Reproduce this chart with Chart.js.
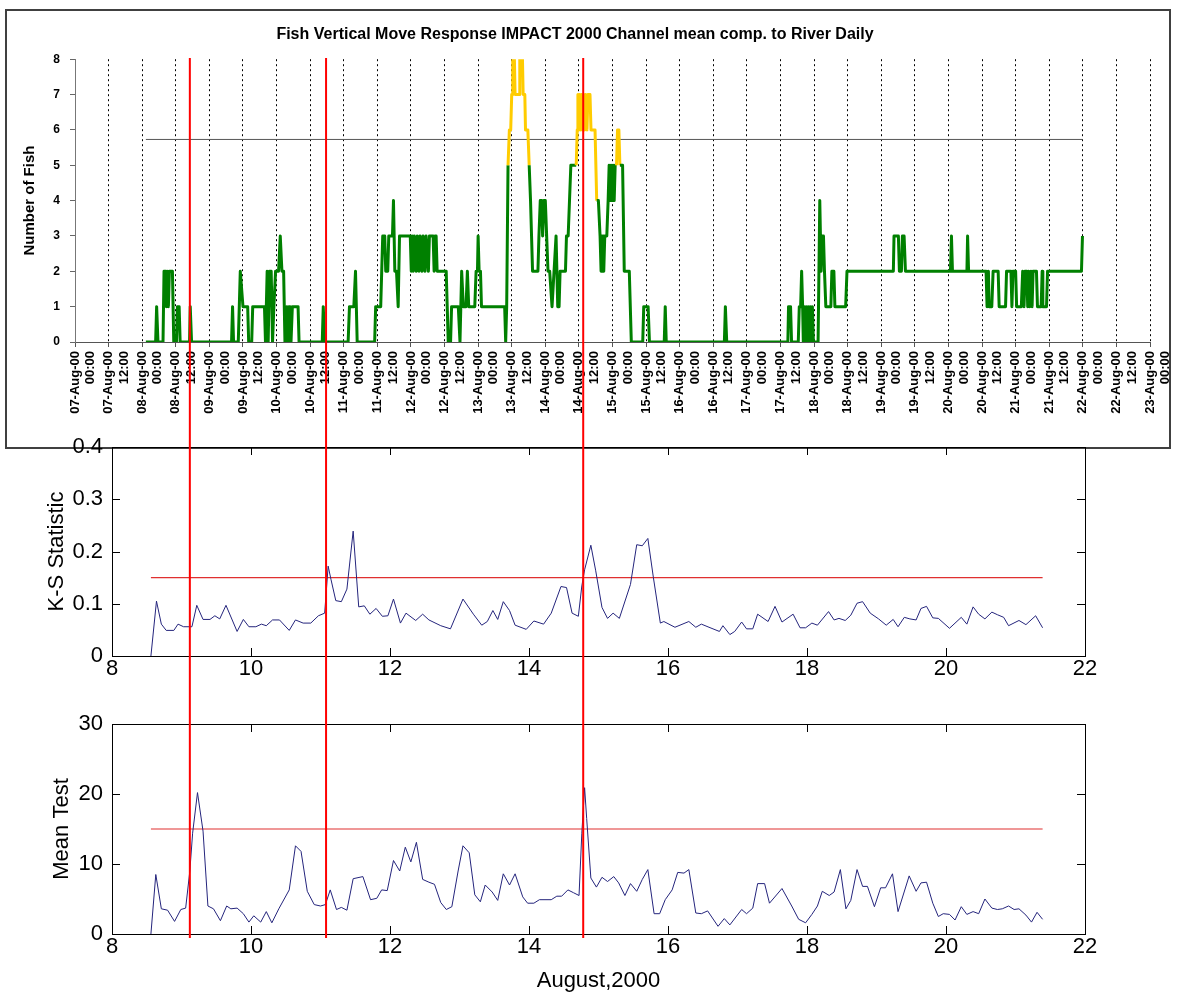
<!DOCTYPE html>
<html>
<head>
<meta charset="utf-8">
<script src="https://cdn.jsdelivr.net/npm/chart.js@4.4.1/dist/chart.umd.min.js"></script>
<style>
html,body{margin:0;padding:0;background:#fff;}
#page{position:relative;width:1178px;height:994px;overflow:hidden;background:#fff;}
#frame{position:absolute;left:5px;top:9px;width:1162px;height:436px;border:2px solid #404040;}
canvas{position:absolute;}
#c1{left:0;top:0;}
#c2{left:0;top:420px;}
#c3{left:0;top:690px;}
#c4{left:0;top:0;pointer-events:none;}
</style>
</head>
<body>
<div id="page">
  <div id="frame"></div>
  <canvas id="c1" width="1210" height="446"></canvas>
  <canvas id="c2" width="1178" height="270"></canvas>
  <canvas id="c3" width="1178" height="304"></canvas>
  <canvas id="c4" width="1178" height="994"></canvas>
</div>
<script>
// ---------------- DATA ----------------
const topTitle = 'Fish Vertical Move Response IMPACT 2000 Channel mean comp. to River Daily';
const topYTitle = 'Number of Fish';
const topTickLabels = [
 '07-Aug-00 00:00','07-Aug-00 12:00','08-Aug-00 00:00','08-Aug-00 12:00','09-Aug-00 00:00','09-Aug-00 12:00',
 '10-Aug-00 00:00','10-Aug-00 12:00','11-Aug-00 00:00','11-Aug-00 12:00','12-Aug-00 00:00','12-Aug-00 12:00',
 '13-Aug-00 00:00','13-Aug-00 12:00','14-Aug-00 00:00','14-Aug-00 12:00','15-Aug-00 00:00','15-Aug-00 12:00',
 '16-Aug-00 00:00','16-Aug-00 12:00','17-Aug-00 00:00','17-Aug-00 12:00','18-Aug-00 00:00','18-Aug-00 12:00',
 '19-Aug-00 00:00','19-Aug-00 12:00','20-Aug-00 00:00','20-Aug-00 12:00','21-Aug-00 00:00','21-Aug-00 12:00',
 '22-Aug-00 00:00','22-Aug-00 12:00','23-Aug-00 00:00'
];
const fishThreshold = 5.73;
const fishThresholdRange = [2.11, 29.99];
// [tick index, number of fish]
const fishSeries = [
 [2.11,0],[2.40,0],[2.43,1],[2.47,0],[2.62,0],[2.65,2],[2.70,2],[2.72,1],[2.75,2],[2.78,1],[2.81,2],[2.90,2],[2.94,0],[3.02,0],[3.05,1],[3.10,1],[3.13,0],[3.41,0],[3.43,1],[3.47,0],
 [4.66,0],[4.69,1],[4.72,0],[4.86,0],[4.92,2],[5.00,1],[5.14,1],[5.17,0],[5.26,0],[5.29,1],[5.64,1],[5.67,0],[5.72,2],[5.75,0],[5.79,2],[5.84,2],[5.88,0],[5.92,1],[5.97,2],[6.06,2],[6.11,3],[6.16,2],[6.21,2],[6.25,0],[6.31,1],[6.34,0],[6.37,1],[6.40,1],[6.43,0],[6.47,1],[6.64,1],[6.67,0],
 [7.36,0],[7.39,1],[7.43,0],[8.13,0],[8.17,1],[8.30,1],[8.35,2],[8.40,0],[8.92,0],[8.95,1],[9.10,1],[9.16,3],[9.22,3],[9.25,2],[9.31,2],[9.34,3],[9.45,3],[9.48,4],[9.52,2],[9.57,2],[9.62,1],[9.66,3],
 [9.98,3],[10.01,2],[10.04,3],[10.07,2],[10.10,3],[10.16,2],[10.19,3],[10.24,2],[10.27,3],[10.33,2],[10.36,3],[10.42,2],[10.45,3],[10.52,2],[10.55,3],[10.66,3],[10.69,2],[10.72,3],[10.75,3],[10.78,2],
 [11.05,2],[11.08,1],[11.11,0],[11.18,0],[11.21,1],[11.41,1],[11.46,0],[11.51,2],[11.56,1],[11.64,1],[11.68,2],[11.72,1],[11.90,1],[11.94,2],[11.98,2],[12.00,3],[12.03,2],[12.07,2],[12.10,1],[12.79,1],[12.82,0],[12.85,1],[12.89,5],[12.93,6],[12.97,6],[13.00,7],[13.02,7],[13.03,8],[13.08,8],[13.10,7],[13.22,7],[13.24,8],[13.32,8],[13.34,7],[13.39,7],[13.41,6],[13.48,6],[13.52,5],[13.56,4],[13.62,2],[13.78,2],[13.81,3],[13.85,4],[13.89,4],[13.92,3],[13.96,4],[14.00,4],[14.04,3],[14.08,2],[14.13,2],[14.20,1],[14.26,2],[14.32,3],[14.37,1],[14.41,1],[14.44,2],[14.60,2],[14.63,3],[14.68,3],[14.72,4],[14.76,5],[14.92,5],[14.95,6],[14.97,7],[14.99,6],[15.02,7],[15.05,6],[15.08,7],[15.11,6],[15.14,7],[15.17,6],[15.20,7],[15.24,6],[15.27,7],[15.33,7],[15.36,6],[15.48,6],[15.53,4],[15.58,4],[15.63,3],[15.66,2],[15.68,3],[15.70,2],[15.72,3],[15.74,2],[15.77,3],[15.83,3],[15.87,4],[15.90,5],[15.93,4],[15.96,5],[15.99,4],[16.02,5],[16.05,4],[16.08,5],[16.12,5],[16.15,6],[16.19,6],[16.22,5],[16.30,5],[16.35,2],[16.50,2],[16.56,0],[16.90,0],[16.93,1],[17.06,1],[17.10,0],[17.54,0],[17.57,1],[17.60,0],[19.33,0],[19.36,1],[19.40,0],
 [21.22,0],[21.24,1],[21.30,1],[21.33,0],[21.53,0],[21.56,1],[21.60,1],[21.63,2],[21.66,1],[21.68,0],[21.71,1],[21.74,0],[21.77,1],[21.80,0],[21.83,1],[21.86,0],[21.89,1],[21.92,0],[21.95,1],[21.98,0],[22.12,0],[22.17,4],[22.21,2],[22.24,3],[22.28,3],[22.31,2],[22.35,1],[22.50,1],[22.53,2],[22.59,2],[22.62,1],[22.94,1],[22.98,2],[24.36,2],[24.38,3],[24.51,3],[24.54,2],[24.60,2],[24.63,3],[24.68,3],[24.72,2],[26.06,2],[26.09,3],[26.12,2],[26.55,2],[26.57,3],[26.60,2],
 [27.12,2],[27.15,1],[27.19,2],[27.21,1],[27.29,1],[27.33,2],[27.48,2],[27.51,1],[27.70,1],[27.73,2],[27.86,2],[27.89,1],[27.92,2],[28.00,2],[28.03,1],[28.17,1],[28.21,2],[28.25,1],[28.28,2],[28.33,2],[28.36,1],[28.39,2],[28.42,1],[28.46,2],[28.49,1],[28.52,2],[28.62,2],[28.65,1],[28.76,1],[28.79,2],[28.81,1],[28.92,1],[28.95,2],[29.96,2],[29.99,3]
];

const ksDays = [8.56,8.64,8.71,8.78,8.89,8.95,9.03,9.15,9.22,9.31,9.41,9.48,9.55,9.64,9.80,9.89,9.97,10.07,10.15,10.22,10.31,10.41,10.55,10.64,10.75,10.86,10.97,11.06,11.11,11.15,11.22,11.30,11.38,11.47,11.55,11.63,11.71,11.80,11.89,11.97,12.05,12.15,12.23,12.37,12.47,12.56,12.73,12.87,13.05,13.20,13.32,13.40,13.48,13.55,13.63,13.72,13.80,13.96,14.07,14.21,14.32,14.46,14.54,14.62,14.71,14.76,14.80,14.89,14.96,15.05,15.13,15.21,15.30,15.46,15.55,15.63,15.71,15.79,15.89,15.94,16.10,16.30,16.40,16.48,16.59,16.74,16.79,16.89,16.96,17.06,17.13,17.22,17.29,17.44,17.54,17.64,17.80,17.90,17.98,18.07,18.15,18.31,18.39,18.46,18.55,18.63,18.72,18.80,18.91,19.03,19.14,19.24,19.31,19.40,19.48,19.57,19.64,19.72,19.81,19.89,20.05,20.22,20.30,20.39,20.47,20.56,20.66,20.74,20.83,20.90,21.05,21.15,21.29,21.39];
const ksValues = [0,0.105,0.061,0.049,0.049,0.061,0.056,0.056,0.097,0.070,0.070,0.077,0.071,0.097,0.047,0.070,0.056,0.056,0.061,0.058,0.069,0.069,0.049,0.069,0.063,0.063,0.077,0.082,0.172,0.147,0.106,0.104,0.128,0.239,0.094,0.096,0.080,0.091,0.076,0.077,0.109,0.063,0.082,0.068,0.080,0.069,0.058,0.052,0.109,0.080,0.059,0.066,0.087,0.070,0.104,0.087,0.059,0.051,0.067,0.061,0.082,0.133,0.131,0.082,0.076,0.134,0.165,0.212,0.163,0.093,0.072,0.082,0.072,0.137,0.213,0.211,0.225,0.150,0.063,0.066,0.055,0.066,0.055,0.061,0.055,0.047,0.058,0.041,0.047,0.065,0.052,0.052,0.080,0.066,0.095,0.065,0.080,0.054,0.054,0.063,0.059,0.085,0.069,0.072,0.068,0.078,0.101,0.104,0.082,0.071,0.059,0.070,0.056,0.074,0.071,0.069,0.091,0.095,0.073,0.072,0.053,0.074,0.061,0.094,0.080,0.071,0.084,0.079,0.074,0.058,0.068,0.060,0.077,0.054];
const ksThreshold = 0.15;

const mtDays = [8.56,8.63,8.71,8.80,8.90,8.99,9.06,9.12,9.16,9.23,9.31,9.38,9.46,9.56,9.65,9.71,9.80,9.89,9.97,10.04,10.14,10.22,10.30,10.40,10.55,10.64,10.72,10.81,10.91,11.00,11.07,11.14,11.23,11.30,11.38,11.47,11.61,11.72,11.81,11.88,11.96,12.05,12.14,12.22,12.30,12.38,12.47,12.56,12.64,12.73,12.81,12.89,12.98,13.05,13.14,13.22,13.30,13.37,13.47,13.55,13.63,13.72,13.80,13.91,13.98,14.07,14.15,14.32,14.40,14.47,14.56,14.64,14.72,14.76,14.80,14.83,14.89,14.97,15.05,15.13,15.22,15.29,15.38,15.46,15.55,15.63,15.71,15.80,15.88,15.96,16.06,16.14,16.23,16.30,16.40,16.48,16.57,16.72,16.81,16.89,17.06,17.13,17.22,17.29,17.39,17.46,17.64,17.78,17.88,17.98,18.07,18.15,18.22,18.32,18.39,18.48,18.56,18.63,18.72,18.80,18.87,18.97,19.06,19.13,19.23,19.31,19.47,19.57,19.64,19.72,19.81,19.89,19.96,20.05,20.13,20.22,20.30,20.39,20.47,20.56,20.66,20.74,20.81,20.90,20.98,21.05,21.15,21.23,21.31,21.39];
const mtValues = [0,8.5,3.6,3.4,1.8,3.5,3.7,9.0,14.4,20.2,14.7,4.0,3.6,1.9,4.0,3.6,3.7,2.9,1.7,2.6,1.7,3.2,1.6,3.6,6.3,12.6,11.8,6.1,4.2,4.0,4.2,6.3,3.5,3.8,3.4,7.9,8.2,4.9,5.1,6.3,6.2,10.5,9.0,12.4,10.3,13.1,7.8,7.4,7.1,4.5,3.5,3.9,9.0,12.6,11.6,5.6,4.6,7.0,6.0,4.8,8.6,7.0,8.6,5.3,4.4,4.4,4.9,4.9,5.4,5.4,6.3,5.9,5.5,14.4,20.9,16.5,8.0,6.7,8.1,7.5,8.2,7.3,5.5,7.2,6.1,7.8,9.2,2.9,2.9,4.9,6.3,8.8,8.7,9.2,3.0,2.9,3.3,1.1,2.2,1.3,3.5,2.9,3.7,7.2,7.2,4.4,6.5,4.0,2.1,1.6,2.8,4.0,6.1,5.5,6.0,9.2,3.6,4.8,9.2,6.8,6.8,3.9,6.6,6.6,8.6,3.2,8.3,6.1,7.3,7.4,4.4,2.5,2.9,2.8,2.0,3.9,2.8,3.2,2.9,5.0,3.7,3.5,3.6,4.0,3.5,3.6,2.7,1.7,3.1,2.1];
const mtThreshold = 15;

const redLineDays = [9.12, 11.08, 14.78];
const xAxisTitle = 'August,2000';

// ---------------- STYLE / HELPERS ----------------
const FONT = "'Liberation Sans', Arial, sans-serif";
const GREEN = '#008000', YELLOW = '#FFCC00';
const NAVY = '#24247c', THR_RED = '#e03030';
Chart.defaults.font.family = FONT;
Chart.defaults.color = '#000';

const matlabFrame = {
  id: 'matlabFrame',
  afterDatasetsDraw(chart) {
    const {ctx, chartArea: {left, right, top, bottom}, scales: {x, y}} = chart;
    ctx.save();
    ctx.strokeStyle = '#000';
    ctx.lineWidth = 1;
    ctx.strokeRect(Math.round(left) + 0.5, Math.round(top) + 0.5, Math.round(right - left), Math.round(bottom - top));
    ctx.beginPath();
    const L = 8;
    x.ticks.forEach(t => {
      const px = Math.round(x.getPixelForValue(t.value)) + 0.5;
      ctx.moveTo(px, bottom); ctx.lineTo(px, bottom - L);
      ctx.moveTo(px, top); ctx.lineTo(px, top + L);
    });
    y.ticks.forEach(t => {
      const py = Math.round(y.getPixelForValue(t.value)) + 0.5;
      ctx.moveTo(left, py); ctx.lineTo(left + L, py);
      ctx.moveTo(right, py); ctx.lineTo(right - L, py);
    });
    ctx.stroke();
    ctx.restore();
  }
};

const basePlugins = {legend: {display: false}, tooltip: {enabled: false}};

// ---------------- TOP CHART ----------------
new Chart(document.getElementById('c1'), {
  type: 'line',
  data: {
    datasets: [
      {
        data: fishSeries.map(p => ({x: p[0], y: p[1]})),
        borderColor: GREEN,
        borderWidth: 3,
        borderJoinStyle: 'round',
        pointRadius: 0,
        tension: 0,
        order: 0,
        segment: {
          borderColor: c => (c.p0.parsed.y > fishThreshold || c.p1.parsed.y > fishThreshold) ? YELLOW : GREEN
        }
      },
      {
        data: fishThresholdRange.map(v => ({x: v, y: fishThreshold})),
        borderColor: '#555',
        borderWidth: 1,
        pointRadius: 0,
        order: 1
      }
    ]
  },
  options: {
    responsive: false,
    animation: false,
    layout: {padding: {left: 0, right: 60, top: 0, bottom: 0}},
    plugins: {
      ...basePlugins,
      title: {
        display: true, text: topTitle, color: '#000',
        font: {family: FONT, size: 16, weight: 'bold'},
        padding: {top: 25, bottom: 15}
      }
    },
    scales: {
      x: {
        type: 'linear', min: 0, max: topTickLabels.length - 1,
        afterFit(s) { s.height = 104; },
        ticks: {
          stepSize: 1, autoSkip: false, maxTicksLimit: 100,
          minRotation: 90, maxRotation: 90, padding: 4, color: '#000',
          font: {family: FONT, size: 13, weight: 'bold'},
          callback: v => (topTickLabels[v] || '').split(' ')
        },
        grid: {color: '#000', lineWidth: 1, drawTicks: true, tickLength: 5, tickColor: '#555'},
        border: {display: true, color: '#555', width: 1, dash: [2, 3]}
      },
      y: {
        min: 0, max: 8,
        afterFit(s) { s.width = 75; },
        ticks: {stepSize: 1, color: '#000', padding: 10, font: {family: FONT, size: 12, weight: 'bold'}},
        grid: {drawOnChartArea: false, drawTicks: true, tickLength: 5, tickColor: '#666'},
        border: {display: true, color: '#777', width: 1},
        title: {
          display: true, text: topYTitle, color: '#000',
          font: {family: FONT, size: 15, weight: 'bold'},
          padding: {top: 21, bottom: 0}
        }
      }
    }
  }
});

// ---------------- LOWER CHARTS ----------------
function lowerChart(canvasId, days, values, thr, yMax, yStep, yTitle, yTitlePad, padTop, xAxisH, xTitle) {
  return new Chart(document.getElementById(canvasId), {
    type: 'line',
    data: {
      datasets: [
        {data: days.map((d, i) => ({x: d, y: values[i]})), borderColor: NAVY, borderWidth: 1, pointRadius: 0, tension: 0, order: 0},
        {data: [{x: days[0], y: thr}, {x: days[days.length - 1], y: thr}], borderColor: THR_RED, borderWidth: 1.2, pointRadius: 0, order: 1}
      ]
    },
    options: {
      responsive: false,
      animation: false,
      layout: {padding: {left: 0, right: 93, top: padTop, bottom: 0}},
      plugins: basePlugins,
      scales: {
        x: {
          type: 'linear', min: 8, max: 22,
          afterFit(s) { s.height = xAxisH; },
          ticks: {stepSize: 2, maxRotation: 0, padding: 0, color: '#000', font: {family: FONT, size: 22}},
          grid: {display: false, drawTicks: false},
          border: {display: false},
          title: xTitle ? {display: true, text: xTitle, color: '#000', font: {family: FONT, size: 22}, padding: {top: 0, bottom: 0}} : {display: false}
        },
        y: {
          min: 0, max: yMax,
          afterFit(s) { s.width = 112; },
          ticks: {stepSize: yStep, padding: 9, color: '#000', font: {family: FONT, size: 22}, callback: v => +v.toFixed(2)},
          grid: {display: false, drawTicks: false},
          border: {display: false},
          title: {display: true, text: yTitle, color: '#000', font: {family: FONT, size: 22}, padding: {top: yTitlePad, bottom: 0}}
        }
      }
    },
    plugins: [matlabFrame]
  });
}

lowerChart('c2', ksDays, ksValues, ksThreshold, 0.4, 0.1, 'K-S Statistic', 44, 27, 34, null);
lowerChart('c3', mtDays, mtValues, mtThreshold, 30, 10, 'Mean Test', 49, 34, 60, xAxisTitle);

// ---------------- RED EVENT LINES (overlay across panels) ----------------
new Chart(document.getElementById('c4'), {
  type: 'line',
  data: {
    datasets: redLineDays.map(d => ({
      data: [{x: d, y: 0}, {x: d, y: 1}],
      borderColor: '#ff0000', borderWidth: 2, pointRadius: 0
    }))
  },
  options: {
    responsive: false,
    animation: false,
    layout: {padding: {left: 112, right: 93, top: 58, bottom: 56}},
    plugins: basePlugins,
    scales: {
      x: {type: 'linear', min: 8, max: 22, display: false},
      y: {min: 0, max: 1, display: false}
    }
  }
});
</script>
</body>
</html>
